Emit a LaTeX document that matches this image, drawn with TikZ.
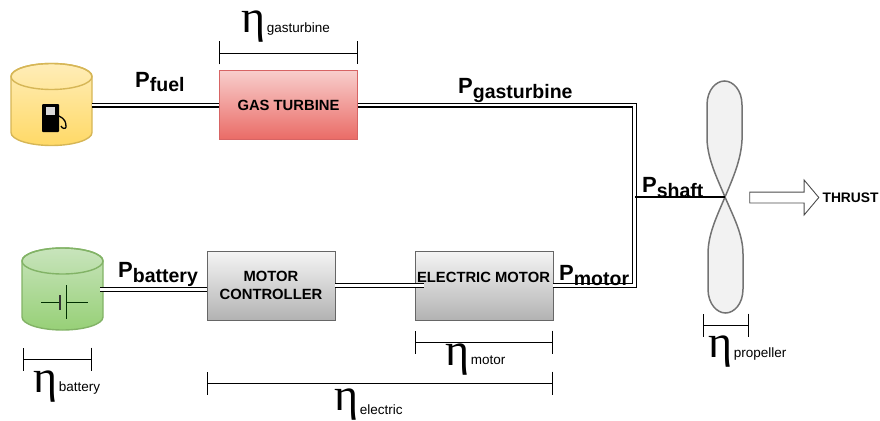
\documentclass[tikz,border=0pt]{standalone}
\usepackage{fontspec}
\setmainfont{Liberation Sans}
\newfontfamily\etafont{Liberation Serif}
\usetikzlibrary{arrows.meta,shapes.arrows,positioning}
\definecolor{fuelline}{HTML}{D6B656}
\definecolor{fueltop}{HTML}{FFEDB8}
\definecolor{fuelbot}{HTML}{FFD966}
\definecolor{batline}{HTML}{82B366}
\definecolor{battop}{HTML}{C8E4BC}
\definecolor{batbot}{HTML}{97D077}
\definecolor{gasline}{HTML}{D76464}
\definecolor{gastop}{HTML}{F8CECC}
\definecolor{gasbot}{HTML}{EA6B66}
\newcommand{\powerlab}[1]{{\fontsize{22}{22}\selectfont\bfseries P}\raisebox{-5pt}{\fontsize{19.5}{20}\selectfont\bfseries #1}}
\newcommand{\efflab}[2]{{\etafont\fontsize{46}{46}\selectfont\raisebox{#1}{η}}\kern1.5pt{\fontsize{13.5}{14}\selectfont #2}}
\newcommand{\drumbody}[3]{%
   \draw[draw=#3line,line width=1.4pt,top color=#3top,bottom color=#3bot] (#1-40.5,#2-28) -- (#1-40.5,#2+28) arc[start angle=180,end angle=360,x radius=40.5pt,y radius=13pt] -- (#1+40.5,#2-28) arc[start angle=0,end angle=180,x radius=40.5pt,y radius=13pt] -- cycle;
   \draw[draw=#3line,line width=1.4pt] (#1,#2-28) ellipse [x radius=40.5pt,y radius=13pt];
}
\tikzset{
    block/.style={
    rectangle,draw=#1,line width=0.8pt,minimum width=138pt,minimum height=69pt,inner sep=0pt,
    font=\fontsize{14.8}{17}\selectfont\bfseries,align=center
    },
    grayblock/.style={
    block=gray!80!black,top color=black!4,bottom color=black!30
    },
    tank/.style={
    rectangle,minimum size=81pt,inner sep=0pt
    },
    pipe/.style={
    double,double distance=2.8pt,line width=1.1pt
    },
    span/.style={
    {Bar[width=23pt,line width=0.8pt]}-{Bar[width=23pt,line width=0.8pt]},line width=0.8pt
    },
    blade/.style={
    draw=black!55,fill=black!5,line width=1.5pt
    },
    lab/.style={
    anchor=base west,inner sep=0pt
    },
}
\begin{document}
\begin{tikzpicture}[x=1pt,y=-1pt]
   \useasboundingbox (0,0) rectangle (880,420);

   \node[tank] (fuel) at (51.5,104.5) {};
   \node[tank] (battery) at (62.5,289) {};
   \drumbody{51.5}{104.5}{fuel}
   \drumbody{62.5}{289}{bat}

   \node[block=gasline,top color=gastop,bottom color=gasbot] (gas) at (288.5,105) {GAS TURBINE};
   \node[grayblock,minimum width=128pt] (ctrl) at (271,285.5) {MOTOR\\[1pt]CONTROLLER};
   \node[grayblock] (motor) at (484,285.5) {};
   \node[font=\fontsize{14.8}{17}\selectfont\bfseries,inner sep=0pt] (motortext) at (483.5,277) {ELECTRIC MOTOR};

   % pump icon
   \fill[black,rounded corners=1pt] (42,104) rectangle (59,132);
   \fill[white!85!black] (45.5,107) rectangle (55,115);
   \draw[black,line width=1.3pt] (59,116) .. controls (65,119) and (66,122) .. (66,127) .. controls (66,129) and (62,129) .. (61,126);

   % battery symbol
   \draw[black!70!green!60!black,line width=0.9pt] (41,302) -- (60,302) (66,302) -- (88,302) (66,285) -- (66,319);
   \draw[black!80,line width=2pt] (60,295) -- (60,310);

   \coordinate (bendtop) at (634.5,105);
   \coordinate (bendbot) at (634.5,285.5);
   \coordinate (shaftjoin) at (635,197);
   \coordinate (hub) at (725,197);
   \coordinate (batout) at (100,289.5);
   \coordinate (ctrlin) at (207,289.5);
   \coordinate (motorin) at (424,285.5);

   \draw[pipe] (fuel.east |- gas) -- (gas.west);
   \draw[pipe] (batout) -- (ctrlin);
   \draw[pipe] (ctrl.east) -- (motorin);
   \draw[pipe] (gas.east) -- (bendtop) -- (bendbot) -- (motor.east);

   \draw[blade] (hub) .. controls (717,178) and (708,160) .. (707,140) -- (707,105) .. controls (707,90) and (716,81) .. (724.5,81) .. controls (733,81) and (742,90) .. (742,105) -- (742,140) .. controls (741,160) and (733,178) .. (hub);
   \draw[blade] (hub) .. controls (717,216) and (708,234) .. (708,254) -- (708,289) .. controls (708,304) and (717,313) .. (725.5,313) .. controls (734,313) and (743,304) .. (743,289) -- (743,254) .. controls (743,234) and (733,216) .. (hub);
   \draw[line width=1.5pt] (shaftjoin) -- (hub);

   \node[single arrow,draw=black!70,line width=0.9pt,fill=white,minimum height=69pt,text height=5pt,text depth=5pt,single arrow head extend=12pt,single arrow tip angle=100,inner sep=0pt] (thrustarrow) at (782,197.5) {};
   \node[font=\fontsize{13.8}{14}\selectfont\bfseries,inner sep=0pt,right=3pt of thrustarrow] (thrust) {THRUST};

   \node[lab] (pfuel) at (135,87) {\powerlab{fuel}};
   \node[lab] (pgas) at (458,93) {\powerlab{gasturbine}};
   \node[lab] (pbat) at (118,277) {\powerlab{battery}};
   \node[lab] (pshaft) at (642,192) {\powerlab{shaft}};
   \node[lab] (pmotor) at (559,280) {\powerlab{motor}};

   \coordinate (gasL) at (219,53);
   \coordinate (gasR) at (358,53);
   \coordinate (batL) at (23,359);
   \coordinate (batR) at (92,359);
   \coordinate (elecL) at (207,383);
   \coordinate (elecR) at (553,383);
   \coordinate (motL) at (415,342);
   \coordinate (motR) at (553,342);
   \coordinate (propL) at (703,325);
   \coordinate (propR) at (749,325);
   \path[span]
    (gasL) edge (gasR)
    (batL) edge (batR)
    (elecL) edge (elecR)
    (motL) edge (motR)
    (propL) edge (propR);

   \node[lab] (egas) at (241,33) {\efflab{0pt}{gasturbine}};
   \node[lab] (ebat) at (33,391) {\efflab{-1pt}{battery}};
   \node[lab] (eelec) at (334,414) {\efflab{4pt}{electric}};
   \node[lab] (emot) at (445,364) {\efflab{-1pt}{motor}};
   \node[lab] (eprop) at (708,357) {\efflab{0pt}{propeller}};
\end{tikzpicture}
\end{document}
